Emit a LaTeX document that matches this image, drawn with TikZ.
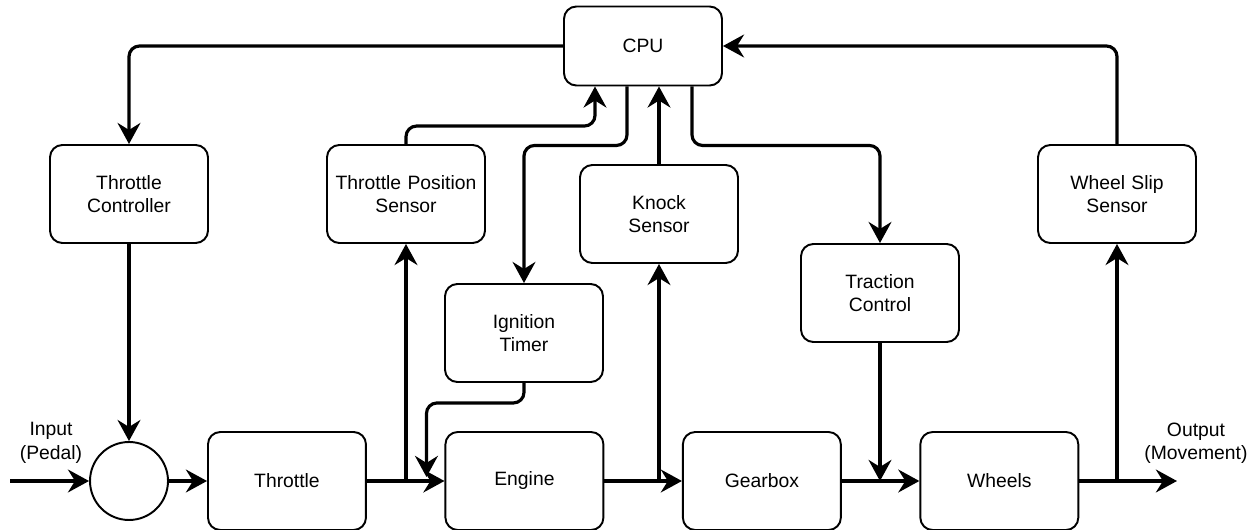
\documentclass[tikz,border=0pt]{standalone}
\usepackage{fontspec}
\setmainfont{Liberation Sans}
\usetikzlibrary{positioning, arrows.meta}

\begin{document}
\begin{tikzpicture}[x=0.02cm, y=-0.02cm, node distance=4.75cm]
% Define block styles
\tikzstyle{block} = [rectangle, rounded corners=7pt, draw=black, line width=1.1pt, align=center, text width=2.85cm, minimum height=1.96cm, minimum width=3.16cm, font=\fontsize{11}{13.3}\selectfont]
\tikzstyle{arrow} = [-{Stealth[length=12pt, width=13pt, inset=4pt]}, line width=1.8pt, draw=black, rounded corners=6pt]
\tikzstyle{lbl} = [align=center, font=\fontsize{11}{13.3}\selectfont]
\useasboundingbox (0,0) rectangle (1259,530);
% Define main chain (bottom row)
\node[circle, draw=black, line width=1.1pt, minimum size=1.56cm] (Sum) at (129,481) {};
\node[block, right of=Sum, xshift=-1.59cm] (Throttle) {Throttle};
\node[block, right of=Throttle] (Engine) {Engine};
\node[block, right of=Engine] (Gearbox) {Gearbox};
\node[block, right of=Gearbox] (Wheels) {Wheels};
% Define controller and sensor nodes
\node[block, minimum height=1.58cm] (CPU) at (643,46) {CPU};
\node[block] (ThrottleController) at (129,194) {Throttle\\Controller};
\node[block] (ThrottlePosSensor) at (406,194) {Throttle Position\\Sensor};
\node[block] (IgnitionTimer) at (524,333) {Ignition\\Timer};
\node[block] (KnockSensor) at (659,214) {Knock\\Sensor};
\node[block] (TractionControl) at (880,293) {Traction\\Control};
\node[block] (WheelSlipSensor) at (1117,194) {Wheel Slip\\Sensor};
% Input and output
\coordinate (In) at (10,481);
\coordinate (Out) at (1177,481);
\node[lbl] (InLabel) at (51,443) {Input\\(Pedal)};
\node[lbl] (OutLabel) at (1196,443) {Output\\(Movement)};
% Relationships (arrows)
\draw[arrow] (In) -- (Sum);
\draw[arrow] (Sum) -- (Throttle);
\draw[arrow] (ThrottleController) -- (Sum);
\draw[arrow] (Throttle) -- (Engine);
\draw[arrow] (Throttle.east -| ThrottlePosSensor) -- (ThrottlePosSensor);
\draw[arrow] (ThrottlePosSensor.north) -- ++(0,-18) -| ([shift={(-48,0)}]CPU.south);
\draw[arrow] ([shift={(-16,0)}]CPU.south) -- ++(0,59) -| (IgnitionTimer.north);
\draw[arrow] (IgnitionTimer.south) -- ++(0,20) -| ([shift={(-18,-4)}]Engine.west);
\draw[arrow] (Engine) -- (Gearbox);
\draw[arrow] (Engine.east -| KnockSensor) -- (KnockSensor);
\draw[arrow] (KnockSensor) -- (KnockSensor |- CPU.south);
\draw[arrow] ([shift={(49,0)}]CPU.south) -- ++(0,59) -| (TractionControl.north);
\draw[arrow] (TractionControl) -- (TractionControl |- Gearbox.east);
\draw[arrow] (Gearbox) -- (Wheels);
\draw[arrow] (Wheels) -- (Out);
\draw[arrow] (Wheels.east -| WheelSlipSensor) -- (WheelSlipSensor);
\draw[arrow] (WheelSlipSensor) |- (CPU);
\draw[arrow] (CPU) -| (ThrottleController);
\end{tikzpicture}
\end{document}
